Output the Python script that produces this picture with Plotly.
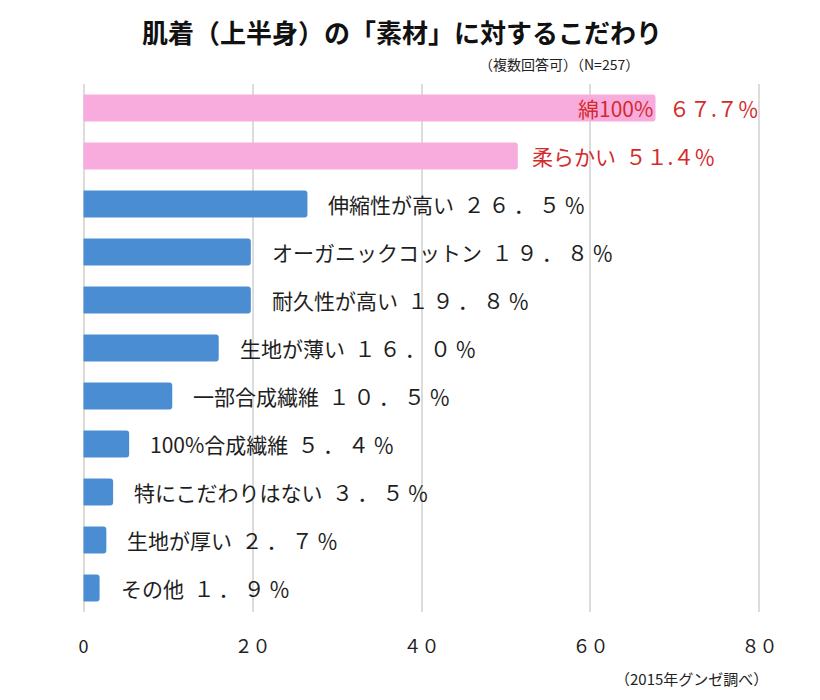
import plotly.graph_objects as go

categories = ["綿100%", "柔らかい", "伸縮性が高い", "オーガニックコットン", "耐久性が高い",
              "生地が薄い", "一部合成繊維", "100%合成繊維", "特にこだわりはない", "生地が厚い", "その他"]
values = [67.7, 51.4, 26.5, 19.8, 19.8, 16.0, 10.5, 5.4, 3.5, 2.7, 1.9]
tick_vals = [0, 20, 40, 60, 80]
tick_text = ["0", "２０", "４０", "６０", "８０"]

PINK = "#f8acde"
BLUE = "#4a8dd2"
RED = "#d42a2a"
FONT = "Noto Sans CJK JP"

def fw(v, wide=True):
    s = f"{v:.1f}%"
    if wide:
        s = s.translate(str.maketrans("0123456789.%", "０１２３４５６７８９．％"))
        return "\u2009".join(s)
    return s.translate(str.maketrans("0123456789%", "０１２３４５６７８９％"))

colors = [PINK if i < 2 else BLUE for i in range(len(values))]

fig = go.Figure(go.Bar(
    x=values, y=categories, orientation="h",
    marker=dict(color=colors, line=dict(width=0), cornerradius=3),
    hoverinfo="skip",
))

ann = []
for i, (c, v) in enumerate(zip(categories, values)):
    hi = i < 2
    col = RED if hi else "#1e1e1e"
    if i == 0:
        ann.append(dict(x=v, y=c, text=c, xanchor="right", xshift=-1, showarrow=False,
                        font=dict(family=FONT, size=21, color=col)))
        ann.append(dict(x=v, y=c, text=fw(v, False), xanchor="left", xshift=11, showarrow=False,
                        font=dict(family=FONT, size=21, color=col)))
    else:
        ann.append(dict(x=v, y=c, text=c + "  " + fw(v, not hi), xanchor="left",
                        xshift=12 if hi else 19, showarrow=False,
                        font=dict(family=FONT, size=21, color=col)))

ann.append(dict(xref="paper", yref="paper", x=0.471, y=1, yshift=53, xanchor="center", yanchor="middle",
                text="<b>肌着（上半身）の「素材」に対するこだわり</b>", showarrow=False,
                font=dict(family=FONT, size=26, color="#111111")))
ann.append(dict(xref="paper", yref="paper", x=0.822, y=1, yshift=20, xanchor="right", yanchor="middle",
                text="（複数回答可）（N=257）", showarrow=False,
                font=dict(family=FONT, size=14, color="#222222")))
ann.append(dict(xref="paper", yref="paper", x=1.012, y=0, yshift=-66, xanchor="right", yanchor="middle",
                text="（2015年グンゼ調べ）", showarrow=False,
                font=dict(family=FONT, size=15, color="#222222")))

fig.update_layout(
    width=812, height=692,
    margin=dict(l=73, r=58, t=76, b=88),
    paper_bgcolor="white", plot_bgcolor="white",
    bargap=0.44,
    showlegend=False,
    annotations=ann,
    xaxis=dict(range=[-0.3, 80.3], tickvals=tick_vals, ticktext=tick_text,
               showgrid=True, gridcolor="#dcdcdc", gridwidth=2, zeroline=False,
               showline=False, ticks="", ticklabelstandoff=22,
               tickfont=dict(family=FONT, size=18, color="#222222")),
    yaxis=dict(autorange="reversed", showticklabels=False, showgrid=False,
               zeroline=False, showline=False, ticks=""),
)

fig.write_html("out.html")
